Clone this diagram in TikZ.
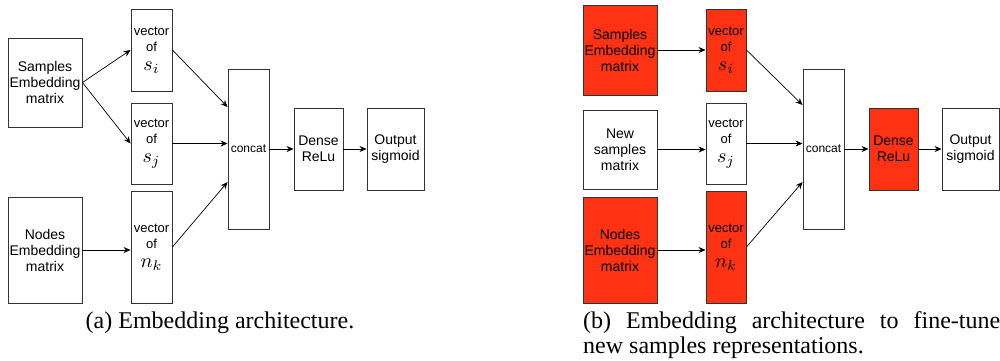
\documentclass[tikz,border=0pt]{standalone}
\usepackage[no-math]{fontspec}
\usepackage{graphicx}
\setmainfont{Liberation Serif}
\newfontfamily\boxfont{Liberation Sans}
\usetikzlibrary{arrows.meta}
\definecolor{fillred}{RGB}{255,50,20}
\tikzset{
    blk/.style={draw=black!80,line width=0.9pt,inner sep=0pt,align=center,
        font=\boxfont\fontsize{14}{16}\selectfont},
    vecblk/.style={blk,font=\boxfont\fontsize{13}{16}\selectfont},
    redblk/.style={blk,fill=fillred},
    redvec/.style={vecblk,fill=fillred},
    arr/.style={-{Stealth[length=7pt,width=6pt]},line width=0.7pt},
}
\newcommand{\vecof}[1]{vector\\of\\[3pt]\scalebox{2}{\fontsize{10}{12}\selectfont$#1$}}
\begin{document}
\begin{tikzpicture}[x=1pt,y=-1pt]
                \useasboundingbox (0,0) rectangle (1000,360);
                % (a)
                \node[blk,minimum width=74pt,minimum height=89pt] (smp) at (45,82.5) {Samples\\Embedding\\matrix};
                \node[blk,minimum width=74pt,minimum height=106pt] (nod) at (45,250) {Nodes\\Embedding\\matrix};
                \node[vecblk,minimum width=41pt,minimum height=82pt] (vsi) at (151.5,50) {\vecof{s_i}};
                \node[vecblk,minimum width=41pt,minimum height=81pt] (vsj) at (151.5,143.5) {\vecof{s_j}};
                \node[vecblk,minimum width=41pt,minimum height=112pt] (vnk) at (151.5,247) {\vecof{n_k}};
                \node[blk,font=\boxfont\fontsize{12}{14}\selectfont,minimum width=41pt,minimum height=160pt] (cat) at (248.5,149) {concat};
                \node[blk,minimum width=49pt,minimum height=82pt] (dns) at (318.5,149) {Dense\\ReLu};
                \node[blk,minimum width=57pt,minimum height=82pt] (out) at (395.5,149) {Output\\sigmoid};
                \draw[arr] (smp.east) -- (vsi.west);
                \draw[arr] (smp.east) -- (vsj.west);
                \draw[arr] (nod.east) -- (nod.east -| vnk.west);
                \draw[arr] (vsi.east) -- ([yshift=42pt]cat.west);
                \draw[arr] (vsj.east) -- (vsj.east -| cat.west);
                \draw[arr] (vnk.east) -- ([yshift=-33pt]cat.west);
                \draw[arr] (cat) -- (dns);
                \draw[arr] (dns) -- (out);
                \node[font=\fontsize{24}{26}\selectfont,anchor=base] (capa) at (220,328) {(a) Embedding architecture.};
                % (b)
                \node[redblk,minimum width=74pt,minimum height=90pt] (smp2) at (620,50) {Samples\\Embedding\\matrix};
                \node[blk,minimum width=74pt,minimum height=79pt] (new2) at (620,149.5) {New\\samples\\matrix};
                \node[redblk,minimum width=74pt,minimum height=106pt] (nod2) at (620,250) {Nodes\\Embedding\\matrix};
                \node[redvec,minimum width=40pt,minimum height=82pt] (vsi2) at (726,50) {\vecof{s_i}};
                \node[vecblk,minimum width=40pt,minimum height=81pt] (vsj2) at (726,143.5) {\vecof{s_j}};
                \node[redvec,minimum width=40pt,minimum height=112pt] (vnk2) at (726,247) {\vecof{n_k}};
                \node[blk,font=\boxfont\fontsize{12}{14}\selectfont,minimum width=41pt,minimum height=160pt] (cat2) at (823.5,149) {concat};
                \node[redblk,minimum width=49pt,minimum height=82pt] (dns2) at (893.5,149) {Dense\\ReLu};
                \node[blk,minimum width=57pt,minimum height=82pt] (out2) at (970.5,149) {Output\\sigmoid};
                \draw[arr] (smp2.east) -- (vsi2.west);
                \draw[arr] (new2.east) -- (new2.east -| vsj2.west);
                \draw[arr] (nod2.east) -- (nod2.east -| vnk2.west);
                \draw[arr] (vsi2.east) -- ([yshift=44pt]cat2.west);
                \draw[arr] (vsj2.east) -- (vsj2.east -| cat2.west);
                \draw[arr] (vnk2.east) -- ([yshift=-33pt]cat2.west);
                \draw[arr] (cat2) -- (dns2);
                \draw[arr] (dns2) -- (out2);
                \node[font=\fontsize{24}{25}\selectfont,text width=417pt,align=justify,inner sep=0pt,anchor=north west] (capb) at (583,311)
                    {(b) Embedding architecture to fine-tune\linebreak new samples representations.};
            \end{tikzpicture}
\end{document}
